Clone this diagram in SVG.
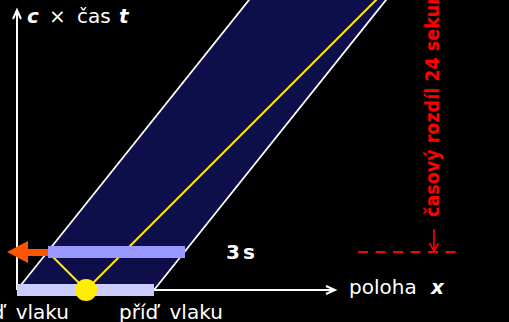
<svg xmlns="http://www.w3.org/2000/svg" width="509" height="322" viewBox="0 0 509 322">
<style>
.w{fill:#fff;font-family:"DejaVu Sans",Verdana,sans-serif;font-size:20px}
.bi{font-weight:bold;font-style:italic}
.ax{stroke:#fff;stroke-width:2;fill:none}
.yl{stroke:#ffee00;stroke-width:2;fill:none}
.red{fill:#ff0000;font-family:"DejaVu Sans",sans-serif;font-weight:bold;font-size:19.5px;font-stretch:condensed}
</style>
<rect width="509" height="322" fill="#000"/>
<g id="worldtube">
<polygon points="17,290 154,290 394,-10 257,-10" fill="#0e0e4a"/>
<line x1="17" y1="290" x2="257" y2="-10" stroke="#fff" stroke-width="1.8"/>
<line x1="154" y1="290" x2="394" y2="-10" stroke="#fff" stroke-width="1.8"/>
</g>
<g id="axes">
<line class="ax" x1="17" y1="290" x2="17" y2="11"/>
<polyline class="ax" stroke-width="1.6" points="13,19 17,10 21,19"/>
<line class="ax" x1="17" y1="290" x2="333" y2="290"/>
<polyline class="ax" stroke-width="1.6" points="326,286 335,290 326,294"/>
</g>
<g id="connectors">
<line class="yl" x1="86" y1="290" x2="48" y2="252"/>
<line class="yl" x1="86" y1="290" x2="386" y2="-10"/>
</g>
<g id="train-later">
<rect x="48" y="246" width="137" height="12" fill="#9999ff"/>
</g>
<g id="train-start">
<rect x="17" y="284" width="137" height="12" fill="#ccccff"/>
</g>
<g id="flash">
<circle cx="86" cy="290" r="11" fill="#ffee00"/>
</g>
<g id="orange-arrow">
<polygon points="48,249 28,249 28,241 7,252 28,263 28,256 48,256" fill="#ff5500"/>
</g>
<g id="labels">
<text class="w" y="23"><tspan class="bi" x="27">c</tspan><tspan x="49">×</tspan><tspan x="77">čas</tspan><tspan class="bi" x="119">t</tspan></text>
<text class="w" y="294"><tspan x="349">poloha</tspan><tspan class="bi" x="431">x</tspan></text>
<text class="w" x="69" y="319" text-anchor="end" font-size="20.5" word-spacing="5">záď vlaku</text>
<text class="w" x="119" y="319" font-size="20.5" word-spacing="5">příď vlaku</text>
<text class="w" y="259" font-size="17" font-weight="bold"><tspan x="226">3</tspan><tspan x="243">s</tspan></text>
</g>
<g id="time-difference">
<line x1="358" y1="252" x2="458" y2="252" stroke="#ff0000" stroke-width="2" stroke-dasharray="10,7.5"/>
<line x1="434" y1="229" x2="434" y2="250" stroke="#ff0000" stroke-width="1.6"/>
<polyline points="429.5,243 434,251 438.5,243" stroke="#ff0000" stroke-width="1.6" fill="none"/>
<text class="red" transform="translate(439,217) rotate(-90)">časový rozdíl 24 sekund</text>
</g>
</svg>
